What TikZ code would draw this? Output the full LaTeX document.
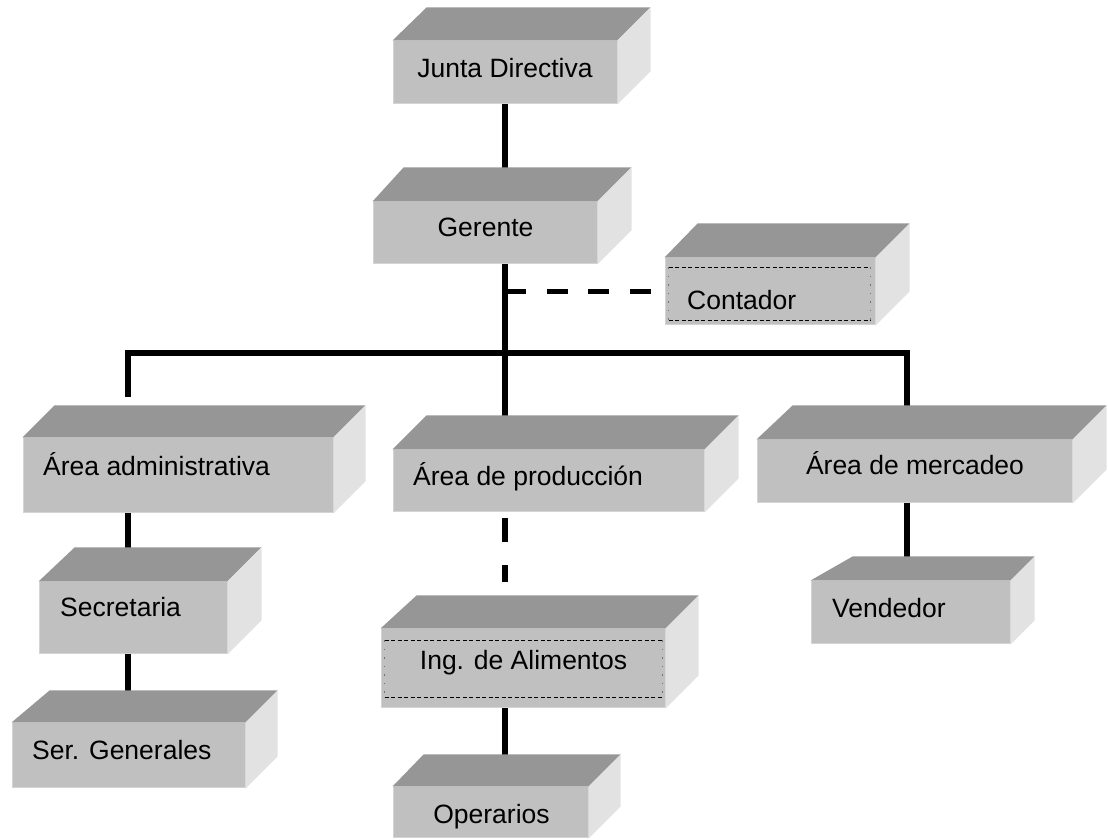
\documentclass[tikz,border=0pt]{standalone}
\usepackage{fontspec}
\setmainfont{Liberation Sans}
\usetikzlibrary{calc}

\definecolor{frente}{RGB}{192,192,192}
\definecolor{tapa}{RGB}{150,150,150}
\definecolor{lado}{RGB}{226,226,226}
\definecolor{borde}{RGB}{212,212,212}

\begin{document}
\begin{tikzpicture}[x=1pt, y=1pt]
	\useasboundingbox (0,0) rectangle (1108,840);
	\tikzstyle{caja}=[fill=frente, draw=borde, line width=1pt, inner sep=0pt]
	\tikzstyle{texto}=[inner sep=0pt, font=\fontsize{26.5}{30}\selectfont]
	\tikzstyle{linea}=[line width=5.5pt]
	\tikzstyle{guion}=[line width=5.5pt, dash pattern=on 21pt off 20.5pt]
	\tikzstyle{marco}=[line width=1.2pt, dash pattern=on 4pt off 2.5pt]
	\tikzstyle{marcol}=[line width=1.5pt, black!55, dash pattern=on 1.5pt off 7pt]

	% caras frontales
	\node[caja, minimum width=224pt, minimum height=63pt] (JD) at (505, 767.5) {};
	\node[caja, minimum width=224pt, minimum height=62pt] (G) at (485, 607) {};
	\node[caja, minimum width=210pt, minimum height=67pt] (CT) at (770, 548.5) {};
	\node[caja, minimum width=310pt, minimum height=75pt] (AD) at (178, 364.5) {};
	\node[caja, minimum width=311pt, minimum height=62pt] (PR) at (548.5, 359) {};
	\node[caja, minimum width=315pt, minimum height=63pt] (ME) at (914.5, 368.5) {};
	\node[caja, minimum width=188pt, minimum height=72pt] (SE) at (133, 222) {};
	\node[caja, minimum width=233pt, minimum height=65pt] (SG) at (128.5, 84.5) {};
	\node[caja, minimum width=284pt, minimum height=79pt] (IA) at (523, 171.5) {};
	\node[caja, minimum width=195pt, minimum height=51pt] (OP) at (490.5, 27.5) {};
	\node[caja, minimum width=199pt, minimum height=63pt] (VE) at (910.5, 227.5) {};

	% textos
	\node[texto, anchor=base] (JDt) at (505, 762) {Junta Directiva};
	\node[texto, anchor=base] (Gt) at (485.5, 603) {Gerente};
	\node[texto, anchor=base west] (CTt) at (687, 530) {Contador};
	\node[texto, anchor=base west] (ADt) at (43, 364) {Área administrativa};
	\node[texto, anchor=base west] (PRt) at (413, 354.3) {Área de producción};
	\node[texto, anchor=base] (MEt) at (915, 365) {Área de mercadeo};
	\node[texto, anchor=base west] (SEt) at (60, 223.3) {Secretaria};
	\node[texto, anchor=base west] (SGt) at (32, 80.7) {Ser. Generales};
	\node[texto, anchor=base] (IAt) at (523.5, 170) {Ing. de Alimentos};
	\node[texto, anchor=base] (OPt) at (491.5, 16.7) {Operarios};
	\node[texto, anchor=base west] (VEt) at (832, 222.7) {Vendedor};

	\coordinate (bus) at (505, 487);
	\coordinate (izq) at (128, 487);
	\coordinate (der) at (907, 487);

	% lineas de mando
	\draw[linea] (JD.south) -- (JD.south |- G.north);
	\draw[linea] (bus |- G.south) -- (bus);
	\draw[guion] (bus |- CT.west) -- (CT.west);
	\draw[linea] (izq) ++(0,-44) -- (izq) -- (der) -- (der |- ME.north);
	\draw[linea] (bus) -- (bus |- PR.north);
	\draw[linea, dash pattern=on 24pt off 23pt, dash phase=41pt] (bus |- PR.south) -- ++(0,-70);
	\draw[linea] (izq |- AD.south) -- (izq |- SE.north);
	\draw[linea] (izq |- SE.south) -- (izq |- SG.north);
	\draw[linea] (bus |- IA.south) -- (bus |- OP.north);
	\draw[linea] (der |- ME.south) -- (der |- VE.north);

	% tapa y lado de cada caja
	\foreach \n/\d/\l in {JD/33/34, G/34/31, CT/34/33, AD/32/32, PR/34/34, ME/34/36,
		SE/34/36, SG/32/38, IA/33/36, OP/32/31, VE/24/42}
	{
		\fill[tapa] (\n.north west) -- ++(\l,\d) -- ($(\n.north east)+(\d,\d)$) -- (\n.north east) -- cycle;
		\fill[lado] (\n.north east) -- ++(\d,\d) -- ($(\n.south east)+(\d,\d)$) -- (\n.south east) -- cycle;
	}

	% marcos punteados
	\foreach \n/\a/\b/\c in {CT/10/5/5, IA/12/11/3}
	{
		\draw[marco] ($(\n.north west)+(4,-\a)$) -- ($(\n.north east)+(-\c,-\a)$)
			($(\n.south west)+(4,\b)$) -- ($(\n.south east)+(-\c,\b)$);
		\draw[marcol] ($(\n.north west)+(4,-\a)$) -- ($(\n.south west)+(4,\b)$)
			($(\n.north east)+(-\c,-\a)$) -- ($(\n.south east)+(-\c,\b)$);
	}
\end{tikzpicture}
\end{document}
